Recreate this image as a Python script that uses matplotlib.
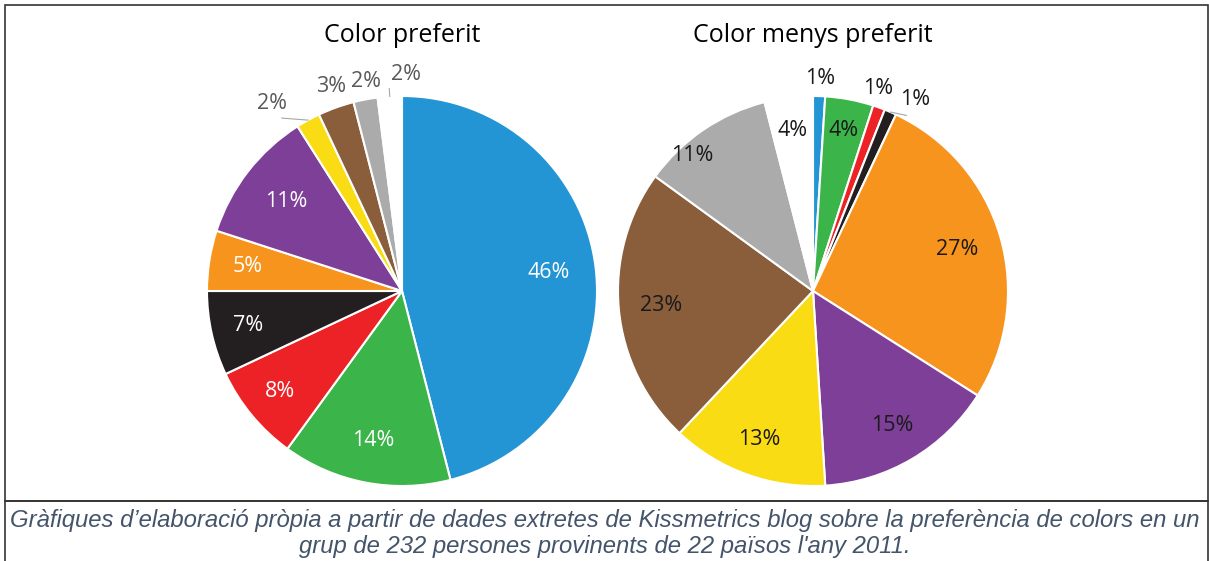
import numpy as np
import matplotlib.pyplot as plt
from matplotlib.patches import Rectangle
from matplotlib.lines import Line2D

# dades
colors_noms = ['blau', 'verd', 'vermell', 'negre', 'taronja', 'lila', 'groc', 'marro', 'gris', 'blanc']
preferit = [46, 14, 8, 7, 5, 11, 2, 3, 2, 2]
menys_preferit = [1, 4, 1, 1, 27, 15, 13, 23, 11, 4]

pal = ['#2394d4', '#3bb44a', '#ec2227', '#231f20', '#f7941d', '#7e3f98',
       '#f9dc14', '#8a5d3b', '#ababab', '#ffffff']

# posicio de cada etiqueta: distancia radial i desviacio d'angle (graus)
dist_esq = [0.76, 0.78, 0.81, 0.81, 0.80, 0.75, 1.17, 1.11, 1.09, 1.11]
desv_esq = [0, 0, 0, 0, 0, 0, 6, -0.8, -1.1, -4.6]
dist_dre = [1.09, 0.84, 1.09, 1.11, 0.77, 0.80, 0.81, 0.78, 0.93, 0.83]
desv_dre = [0, 0, 2, -4.6, 0, 0, 0, 0, 7.5, 0]
col_esq = ['white'] * 6 + ['#595959'] * 4
col_dre = ['#1a1a1a'] * 10

W, H = 1209, 561
fig = plt.figure(figsize=(W / 100, H / 100), dpi=100)
R = 195

def pastis(cx, cy, vals, dist, desv, tcol, titol, guia):
    ax = fig.add_axes([(cx - R) / W, (H - cy - R) / H, 2 * R / W, 2 * R / H])
    ax.pie(vals, colors=pal, startangle=90, counterclock=False, radius=1,
           wedgeprops=dict(edgecolor='white', linewidth=1.5))
    ax.set_xlim(-1, 1)
    ax.set_ylim(-1, 1)
    ax.axis('off')
    tot = sum(vals)
    acum = np.cumsum([0] + vals)
    for i, v in enumerate(vals):
        mid = (acum[i] + v / 2) / tot
        a_tall = np.deg2rad(90 - mid * 360)
        ang = np.deg2rad(90 - mid * 360 + desv[i])
        d = dist[i]
        x, y = d * np.cos(ang), d * np.sin(ang)
        ax.text(x, y, '%d%%' % v, ha='center', va='center', color=tcol[i],
                fontsize=15.5, family='Open Sans')
        if i in guia:
            if guia[i] == 'curt':
                xs = [1.0 * np.cos(a_tall), 1.04 * np.cos(a_tall)]
                ys = [1.0 * np.sin(a_tall), 1.04 * np.sin(a_tall)]
            else:
                xs = [1.0 * np.cos(a_tall), (d - 0.09) * np.cos(ang)]
                ys = [1.0 * np.sin(a_tall), (d - 0.09) * np.sin(ang)]
            ax.add_line(Line2D(xs, ys, color='#a6a6a6', lw=0.8, clip_on=False))
    fig.text(cx / W, 1 - 36 / H, titol, ha='center', va='center',
             fontsize=18, family='Open Sans', color='#000000')

pastis(402, 291, preferit, dist_esq, desv_esq, col_esq, 'Color preferit',
       {6: 'llarg', 9: 'curt'})
pastis(813, 291, menys_preferit, dist_dre, desv_dre, col_dre, 'Color menys preferit',
       {3: 'llarg'})

# marcs
fig.patches.append(Rectangle((4.5 / W, (H - 501) / H), 1203 / W, 496 / H,
                             transform=fig.transFigure, fill=False,
                             edgecolor='#333333', lw=1.2))
fig.patches.append(Rectangle((4.5 / W, -0.01), 1203 / W, (H - 501) / H + 0.01,
                             transform=fig.transFigure, fill=False,
                             edgecolor='#333333', lw=1.2))

fig.text(0.5, 1 - 521 / H,
         "Gràfiques d’elaboració pròpia a partir de dades extretes de Kissmetrics blog sobre la preferència de colors en un",
         ha='center', va='center', fontsize=17.2, style='italic',
         family='Liberation Sans', color='#44546a')
fig.text(0.5, 1 - 547 / H,
         "grup de 232 persones provinents de 22 països l'any 2011.",
         ha='center', va='center', fontsize=17.2, style='italic',
         family='Liberation Sans', color='#44546a')

fig.savefig('out.png', dpi=100)
